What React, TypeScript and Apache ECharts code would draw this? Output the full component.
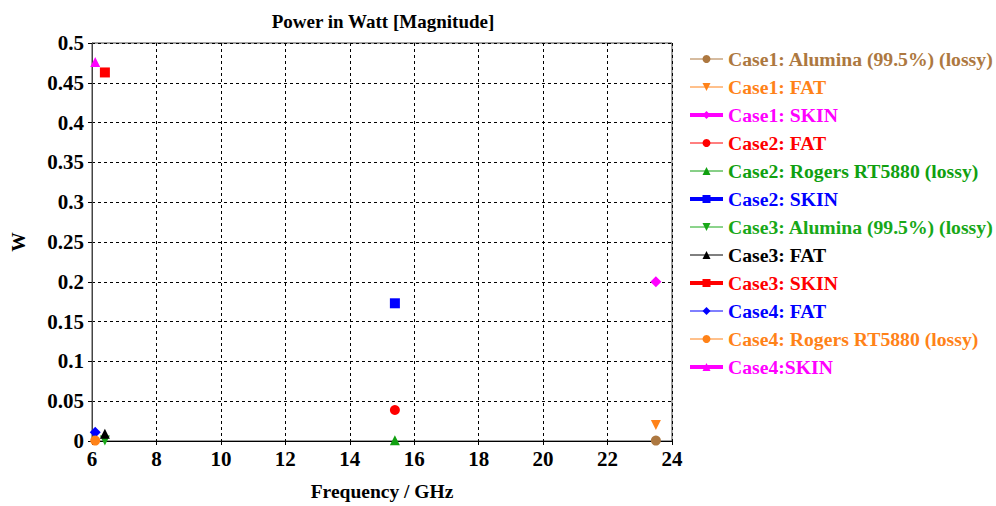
import React, { useEffect, useRef } from "react";
import * as echarts from "echarts";

// Series names, in legend order
const seriesNames = [
  "Case1: Alumina (99.5%) (lossy)",
  "Case1: FAT",
  "Case1: SKIN",
  "Case2: FAT",
  "Case2: Rogers RT5880 (lossy)",
  "Case2: SKIN",
  "Case3: Alumina (99.5%) (lossy)",
  "Case3: FAT",
  "Case3: SKIN",
  "Case4: FAT",
  "Case4: Rogers RT5880 (lossy)",
  "Case4:SKIN",
];

// Frequency (GHz) of each series' single point
const frequencies = [23.5, 23.5, 23.5, 15.4, 15.4, 15.4, 6.4, 6.4, 6.4, 6.1, 6.1, 6.1];

// Power (W) of each series' single point
const powers = [0.0005, 0.02, 0.2, 0.039, 0.001, 0.173, 0.0005, 0.009, 0.463, 0.011, 0.0005, 0.476];

const colors = [
  "#ad7840", "#ff8218", "#ff00ff", "#ff0000", "#10a010", "#0000ff",
  "#18a818", "#000000", "#ff0000", "#0000ff", "#ff8218", "#ff00ff",
];

const symbols = [
  "circle", "triangle", "diamond", "circle", "triangle", "rect",
  "triangle", "triangle", "rect", "diamond", "circle", "triangle",
];
const rotations = [0, 180, 0, 0, 0, 0, 180, 0, 0, 0, 0, 0];
const lineWidths = [1, 1, 4, 1, 1, 4, 1, 1, 4, 1, 1, 4];

const xTicks = { min: 6, max: 24, interval: 2 };
const yTicks = { min: 0, max: 0.5, interval: 0.05 };

const FONT = "'Times New Roman', 'Liberation Serif', serif";

export default function App() {
  const ref = useRef<HTMLDivElement>(null);

  useEffect(() => {
    if (!ref.current) return;
    const chart = echarts.init(ref.current, undefined, { renderer: "svg" });

    const series = seriesNames.map((name, i) => ({
      name,
      type: "line",
      data: [[frequencies[i], powers[i]]],
      symbol: symbols[i],
      symbolRotate: rotations[i],
      symbolSize: symbols[i] === "diamond" ? 11 : 10,
      showSymbol: true,
      itemStyle: { color: colors[i] },
      lineStyle: { color: colors[i], width: lineWidths[i] },
    }));

    const nameText = { fontFamily: FONT, fontWeight: "bold", fontSize: 19.5, color: "#000" };
    const tickText = { fontFamily: FONT, fontWeight: "bold", fontSize: 21, color: "#000" };

    chart.setOption({
      animation: false,
      backgroundColor: "#ffffff",
      textStyle: { fontFamily: FONT },
      title: {
        text: "Power in Watt [Magnitude]",
        left: 378,
        top: 7,
        textAlign: "center",
        textStyle: { fontFamily: FONT, fontWeight: "bold", fontSize: 19, color: "#000" },
      },
      grid: {
        left: 88,
        right: 324,
        top: 43,
        bottom: 62,
        show: true,
        borderColor: "#444",
        borderWidth: 1,
      },
      legend: {
        orient: "vertical",
        left: 683,
        top: 44,
        itemWidth: 33,
        itemHeight: 10,
        itemGap: 8,
        textStyle: { fontFamily: FONT, fontWeight: "bold", fontSize: 19.7, lineHeight: 20 },
        data: seriesNames.map((name, i) => ({
          name,
          textStyle: { color: colors[i] },
          lineStyle: { width: lineWidths[i] },
        })),
      },
      xAxis: {
        type: "value",
        min: xTicks.min,
        max: xTicks.max,
        interval: xTicks.interval,
        name: "Frequency / GHz",
        nameLocation: "middle",
        nameGap: 40,
        nameTextStyle: nameText,
        axisLine: { show: true, onZero: false, lineStyle: { color: "#000", width: 1 } },
        axisTick: { show: true, length: 4, lineStyle: { color: "#000" } },
        axisLabel: { ...tickText, margin: 7 },
        splitLine: { show: true, lineStyle: { color: "#000", type: [3, 3], width: 1 } },
      },
      yAxis: {
        type: "value",
        min: yTicks.min,
        max: yTicks.max,
        interval: yTicks.interval,
        name: "W",
        nameLocation: "middle",
        nameGap: 64,
        nameRotate: 90,
        nameTextStyle: nameText,
        axisLine: { show: true, lineStyle: { color: "#444", width: 1 } },
        axisTick: { show: true, length: 4, lineStyle: { color: "#000" } },
        axisLabel: { ...tickText, margin: 8 },
        splitLine: { show: true, lineStyle: { color: "#000", type: [3, 3], width: 1 } },
      },
      series,
    });

    return () => chart.dispose();
  }, []);

  return (
    <div
      ref={ref}
      style={{ position: "fixed", left: 0, top: 0, width: 996, height: 506 }}
    />
  );
}
